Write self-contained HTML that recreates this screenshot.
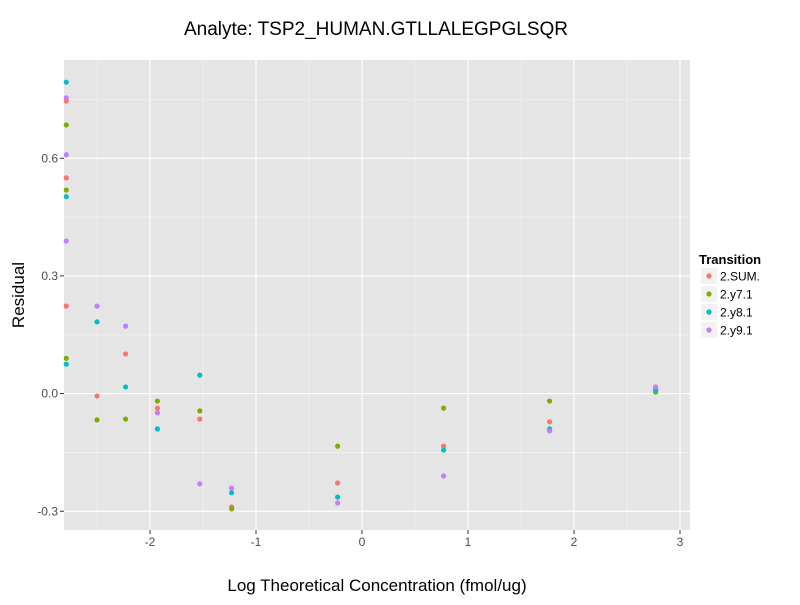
<!DOCTYPE html>
<html><head><meta charset="utf-8"><style>
body{margin:0;background:#fff;font-family:"Liberation Sans",sans-serif}
</style></head><body>
<svg width="800" height="600" xmlns="http://www.w3.org/2000/svg">
<g id="plot"></g>
</svg>
<script>
const xVals=[-2.79,-2.5,-2.23,-1.93,-1.53,-1.23,-0.23,0.77,1.77,2.77];
const seriesNames=["2.SUM.","2.y7.1","2.y8.1","2.y9.1"];
const colors=["#F8766D","#7CAE00","#00BFC4","#C77CFF"];
const sumX=[-2.79,-2.79,-2.79,-2.5,-2.23,-1.93,-1.53,-1.23,-0.23,0.77,1.77,2.77];
const sumY=[0.746,0.55,0.223,-0.006,0.101,-0.037,-0.065,-0.289,-0.228,-0.134,-0.072,0.012];
const y7X=[-2.79,-2.79,-2.79,-2.5,-2.23,-1.93,-1.53,-1.23,-0.23,0.77,1.77,2.77];
const y7Y=[0.685,0.519,0.09,-0.067,-0.065,-0.019,-0.044,-0.294,-0.134,-0.037,-0.019,0.004];
const y8X=[-2.79,-2.79,-2.79,-2.5,-2.23,-1.93,-1.53,-1.23,-0.23,0.77,1.77,2.77];
const y8Y=[0.794,0.502,0.075,0.183,0.017,-0.09,0.047,-0.253,-0.264,-0.144,-0.09,0.009];
const y9X=[-2.79,-2.79,-2.79,-2.5,-2.23,-1.93,-1.53,-1.23,-0.23,0.77,1.77,2.77];
const y9Y=[0.754,0.609,0.389,0.223,0.172,-0.049,-0.23,-0.241,-0.279,-0.21,-0.095,0.017];
const xTicks=[-2,-1,0,1,2,3];
const yTicks=[-0.3,0.0,0.3,0.6];
const yTickLabels=["-0.3","0.0","0.3","0.6"];

const NS="http://www.w3.org/2000/svg";
const L=64,R=690,T=60,B=530;
const xs=v=>362+v*106;
const ys=v=>393.6-v*392.2;
const g=document.getElementById('plot');
function mk(tag,attrs,parent){const e=document.createElementNS(NS,tag);for(const k in attrs)e.setAttribute(k,attrs[k]);(parent||g).appendChild(e);return e;}
const panel=mk('rect',{x:L,y:T,width:R-L,height:B-T,fill:'#E5E5E5'});


// minor grid
for(let i=0;i<xTicks.length;i++){const m=xTicks[i]-0.5;const px=xs(m);if(px>L&&px<R)mk('line',{x1:px,x2:px,y1:T,y2:B,stroke:'#F2F2F2','stroke-width':0.6});}
for(let i=0;i<yTicks.length;i++){[yTicks[i]-0.15,yTicks[i]+0.15].forEach(m=>{const py=ys(m);if(py>T&&py<B)mk('line',{x1:L,x2:R,y1:py,y2:py,stroke:'#F2F2F2','stroke-width':0.6});});}
xTicks.forEach(t=>{const px=xs(t);
 const gl=mk('line',{x1:px,x2:px,y1:T,y2:B,stroke:'#fff','stroke-width':1.2});
 
 mk('line',{x1:px,x2:px,y1:B,y2:B+4,stroke:'#333'});
 const tx=mk('text',{x:px,y:B+16,'text-anchor':'middle','font-size':12,fill:'#4D4D4D'});tx.textContent=t;
 });
yTicks.forEach((t,i)=>{const py=ys(t);
 const gl=mk('line',{x1:L,x2:R,y1:py,y2:py,stroke:'#fff','stroke-width':1.2});
 
 mk('line',{x1:L-4,x2:L,y1:py,y2:py,stroke:'#333'});
 const tx=mk('text',{x:L-6,y:py+4,'text-anchor':'end','font-size':12,fill:'#4D4D4D'});tx.textContent=yTickLabels[i];
 });
const allX=[sumX,y7X,y8X,y9X],allY=[sumY,y7Y,y8Y,y9Y];
allX.forEach((xa,s)=>{xa.forEach((xv,i)=>{
 const c=mk('circle',{cx:xs(xv),cy:ys(allY[s][i]),r:2.6,fill:colors[s]});
 
 });});
const title=mk('text',{x:376,y:35,'text-anchor':'middle','font-size':19,fill:'#000'});title.textContent='Analyte: TSP2_HUMAN.GTLLALEGPGLSQR';

const xt=mk('text',{x:377,y:591,'text-anchor':'middle','font-size':17,fill:'#000'});xt.textContent='Log Theoretical Concentration (fmol/ug)';

const yt=mk('text',{x:24,y:295,'text-anchor':'middle','font-size':17,fill:'#000',transform:'rotate(-90 24 295)'});yt.textContent='Residual';

const lt=mk('text',{x:699,y:264,'font-size':13,'font-weight':'bold',fill:'#000'});lt.textContent='Transition';

seriesNames.forEach((n,i)=>{const cy=276+i*18;
 const eg=mk('g',{});
 mk('rect',{x:701,y:cy-8,width:16,height:16,fill:'#F2F2F2'},eg);
 mk('circle',{cx:709,cy:cy,r:2.6,fill:colors[i]},eg);
 const t=mk('text',{x:720,y:cy+4.5,'font-size':12,fill:'#000'},eg);t.textContent=n;});
</script>
</body></html>
